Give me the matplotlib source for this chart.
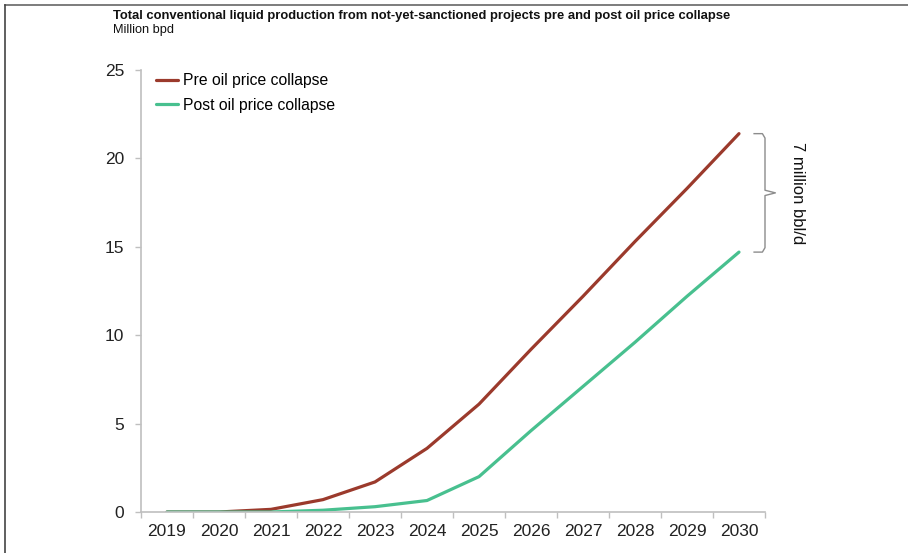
import matplotlib
matplotlib.use("Agg")
import matplotlib.pyplot as plt
from matplotlib.lines import Line2D
import numpy as np

plt.rcParams["font.family"] = ["Liberation Sans", "DejaVu Sans"]

years = ["2019", "2020", "2021", "2022", "2023", "2024",
         "2025", "2026", "2027", "2028", "2029", "2030"]
pre_collapse = [0.0, 0.0, 0.15, 0.7, 1.7, 3.6, 6.1, 9.2, 12.2, 15.3, 18.3, 21.4]
post_collapse = [0.0, 0.0, 0.0, 0.1, 0.3, 0.65, 2.0, 4.6, 7.1, 9.6, 12.2, 14.7]
gap_label = "7 million bbl/d"

PRE_COLOR = "#9b3a2c"
POST_COLOR = "#48c08f"
AXIS_COLOR = "#bfbfbf"

fig = plt.figure(figsize=(9.08, 5.53), dpi=100)
ax = fig.add_axes([141 / 908, 1 - 512 / 553, 624 / 908, 442 / 553])

x = np.arange(len(years))
ax.plot(x, pre_collapse, color=PRE_COLOR, lw=2.3, label="Pre oil price collapse",
        solid_capstyle="round", solid_joinstyle="round")
ax.plot(x, post_collapse, color=POST_COLOR, lw=2.3, label="Post oil price collapse",
        solid_capstyle="round", solid_joinstyle="round")

ax.set_xlim(-0.5, len(years) - 0.5)
ax.set_ylim(0, 25)
ax.set_yticks(range(0, 26, 5))

# category labels sit between boundary tick marks
ax.set_xticks(np.arange(-0.5, len(years), 1.0))
ax.set_xticklabels([])
ax.set_xticks(x, minor=True)
ax.set_xticklabels(years, minor=True)
ax.tick_params(axis="x", which="major", length=4, color=AXIS_COLOR, width=1)
ax.tick_params(axis="x", which="minor", length=0, pad=9, labelsize=12.5, labelcolor="#222222")
ax.tick_params(axis="y", length=4, color=AXIS_COLOR, width=1, pad=8,
               labelsize=12.5, labelcolor="#222222")

for side in ["top", "right"]:
    ax.spines[side].set_visible(False)
for side in ["left", "bottom"]:
    ax.spines[side].set_color(AXIS_COLOR)
    ax.spines[side].set_linewidth(1.2)

leg = ax.legend(loc="upper left", frameon=False, fontsize=11.3, handlelength=1.4,
                handletextpad=0.3, labelspacing=0.6, bbox_to_anchor=(0.007, 1.017),
                borderaxespad=0.3)

# bracket marking the 2030 gap between the two series
top, bot = pre_collapse[-1], post_collapse[-1]
mid = (top + bot) / 2
bx = [11.29, 11.45, 11.5, 11.5, 11.7, 11.5, 11.5, 11.45, 11.29]
by = [top, top, top - 0.25, mid + 0.15, mid, mid - 0.15, bot + 0.25, bot, bot]
ax.plot(bx, by, color="#8c8c8c", lw=1.0, clip_on=False)
ax.text(12.13, mid, gap_label, rotation=-90, ha="center", va="center",
        fontsize=12, color="#111111", clip_on=False)

fig.text(113 / 908, 1 - 16 / 553, "Total conventional liquid production from "
         "not-yet-sanctioned projects pre and post oil price collapse",
         fontsize=9.35, fontweight="bold", ha="left", va="center", color="#111111")
fig.text(113 / 908, 1 - 30 / 553, "Million bpd", fontsize=9.2, ha="left",
         va="center", color="#111111")

# outer frame lines on the top and left edges
fig.add_artist(Line2D([5 / 908, 1.0], [1 - 5 / 553, 1 - 5 / 553],
                      transform=fig.transFigure, color="#666666", lw=1.2))
fig.add_artist(Line2D([5 / 908, 5 / 908], [0, 1 - 5 / 553],
                      transform=fig.transFigure, color="#444444", lw=1.2))

fig.savefig("out.png", dpi=100)
